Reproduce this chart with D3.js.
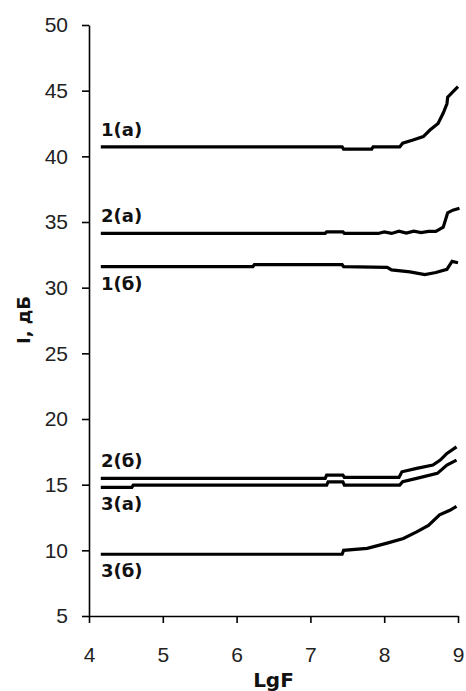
<!DOCTYPE html>
<html>
<head>
<meta charset="utf-8">
<script src="https://cdn.jsdelivr.net/npm/d3@7"></script>
<style>
  html, body { margin: 0; padding: 0; background: #fff; }
  svg { display: block; }
</style>
</head>
<body>
<div id="chart"></div>
<script>
// curves: [LgF, I (dB)]
const curve1a = [[4.16, 40.72], [7.43, 40.72], [7.45, 40.55], [7.83, 40.55], [7.85, 40.72], [8.21, 40.72],
  [8.25, 41.0], [8.39, 41.24], [8.53, 41.5], [8.62, 42.0], [8.73, 42.5], [8.80, 43.3], [8.85, 44.0],
  [8.86, 44.5], [8.93, 44.9], [9.0, 45.3]]
const curve2a = [[4.16, 34.13], [7.2, 34.13], [7.22, 34.25], [7.44, 34.25], [7.46, 34.13], [7.92, 34.13],
  [8.0, 34.25], [8.1, 34.13], [8.2, 34.3], [8.3, 34.15], [8.4, 34.3], [8.5, 34.2], [8.6, 34.28],
  [8.7, 34.28], [8.8, 34.6], [8.86, 35.7], [8.93, 35.9], [9.02, 36.05]]
const curve1b = [[4.16, 31.6], [6.22, 31.6], [6.24, 31.75], [7.43, 31.75], [7.45, 31.6], [8.04, 31.55],
  [8.1, 31.35], [8.35, 31.2], [8.55, 31.0], [8.7, 31.15], [8.85, 31.4], [8.92, 32.0], [9.0, 31.9]]
const curve2b = [[4.16, 15.48], [7.2, 15.48], [7.22, 15.73], [7.44, 15.73], [7.46, 15.55], [8.2, 15.55],
  [8.24, 15.98], [8.44, 16.24], [8.66, 16.49], [8.76, 16.87], [8.85, 17.38], [8.98, 17.88]]
const curve3a = [[4.16, 14.8], [4.58, 14.8], [4.6, 14.97], [7.22, 14.97], [7.24, 15.22], [7.44, 15.22],
  [7.46, 14.97], [8.21, 14.97], [8.25, 15.22], [8.44, 15.48], [8.72, 15.86], [8.85, 16.49], [8.98, 16.87]]
const curve3b = [[4.16, 9.7], [7.43, 9.7], [7.45, 10.0], [7.77, 10.15], [8.04, 10.55], [8.26, 10.9],
  [8.44, 11.4], [8.6, 11.9], [8.75, 12.7], [8.89, 13.05], [8.98, 13.35]]

const seriesNames = ["1(а)", "2(а)", "1(б)", "2(б)", "3(а)", "3(б)"]
const seriesCurves = [curve1a, curve2a, curve1b, curve2b, curve3a, curve3b]
const labelSide = ["above", "above", "below", "above", "below", "below"]

const xTicks = [4, 5, 6, 7, 8, 9]
const yTicks = [5, 10, 15, 20, 25, 30, 35, 40, 45, 50]
const xTitle = "LgF"
const yTitle = "I, дБ"

const width = 466
const height = 691

const x = d3.scaleLinear().domain([4, 9]).range([89, 458])
const y = d3.scaleLinear().domain([5, 50]).range([616, 25])

const svg = d3.select("#chart")
  .append("svg")
  .attr("width", width)
  .attr("height", height)

const xAxis = svg.append("g")
  .attr("transform", `translate(0,${y(5)})`)
  .call(d3.axisBottom(x).tickValues(xTicks).tickFormat(d3.format("d"))
    .tickSize(7).tickPadding(24).tickSizeOuter(0))

const yAxis = svg.append("g")
  .attr("transform", `translate(${x(4)},0)`)
  .call(d3.axisLeft(y).tickValues(yTicks).tickFormat(d3.format("d"))
    .tickSize(7).tickPadding(14).tickSizeOuter(0))

for (const ax of [xAxis, yAxis]) {
  ax.select(".domain").attr("stroke", "#000").attr("stroke-width", 1.6)
  ax.selectAll(".tick line").attr("stroke", "#000").attr("stroke-width", 1.6)
  ax.selectAll(".tick text")
    .attr("fill", "#222")
    .style("font-family", "'Liberation Sans', Arial, sans-serif")
    .style("font-size", "21px")
}

const line = d3.line()
  .x(d => x(d[0]))
  .y(d => y(d[1]))

svg.append("g")
  .selectAll("path")
  .data(seriesCurves)
  .join("path")
  .attr("d", line)
  .attr("fill", "none")
  .attr("stroke", "#000")
  .attr("stroke-width", 3.2)

// series names sit just above or below where each curve starts
svg.append("g")
  .selectAll("text")
  .data(seriesNames)
  .join("text")
  .attr("x", 101)
  .attr("y", (d, i) => y(seriesCurves[i][0][1]) + (labelSide[i] === "above" ? -11 : 23))
  .style("font-family", "'DejaVu Sans', sans-serif")
  .style("font-weight", "bold")
  .style("font-size", "18px")
  .attr("fill", "#111")
  .text(d => d)

svg.append("text")
  .attr("x", (x(4) + x(9)) / 2)
  .attr("y", 687)
  .attr("text-anchor", "middle")
  .style("font-family", "'DejaVu Sans', sans-serif")
  .style("font-weight", "bold")
  .style("font-size", "20px")
  .attr("fill", "#111")
  .text(xTitle)

svg.append("text")
  .attr("transform", "translate(30,320) rotate(-90)")
  .attr("text-anchor", "middle")
  .style("font-family", "'DejaVu Sans', sans-serif")
  .style("font-weight", "bold")
  .style("font-size", "18px")
  .attr("fill", "#111")
  .text(yTitle)
</script>
</body>
</html>
